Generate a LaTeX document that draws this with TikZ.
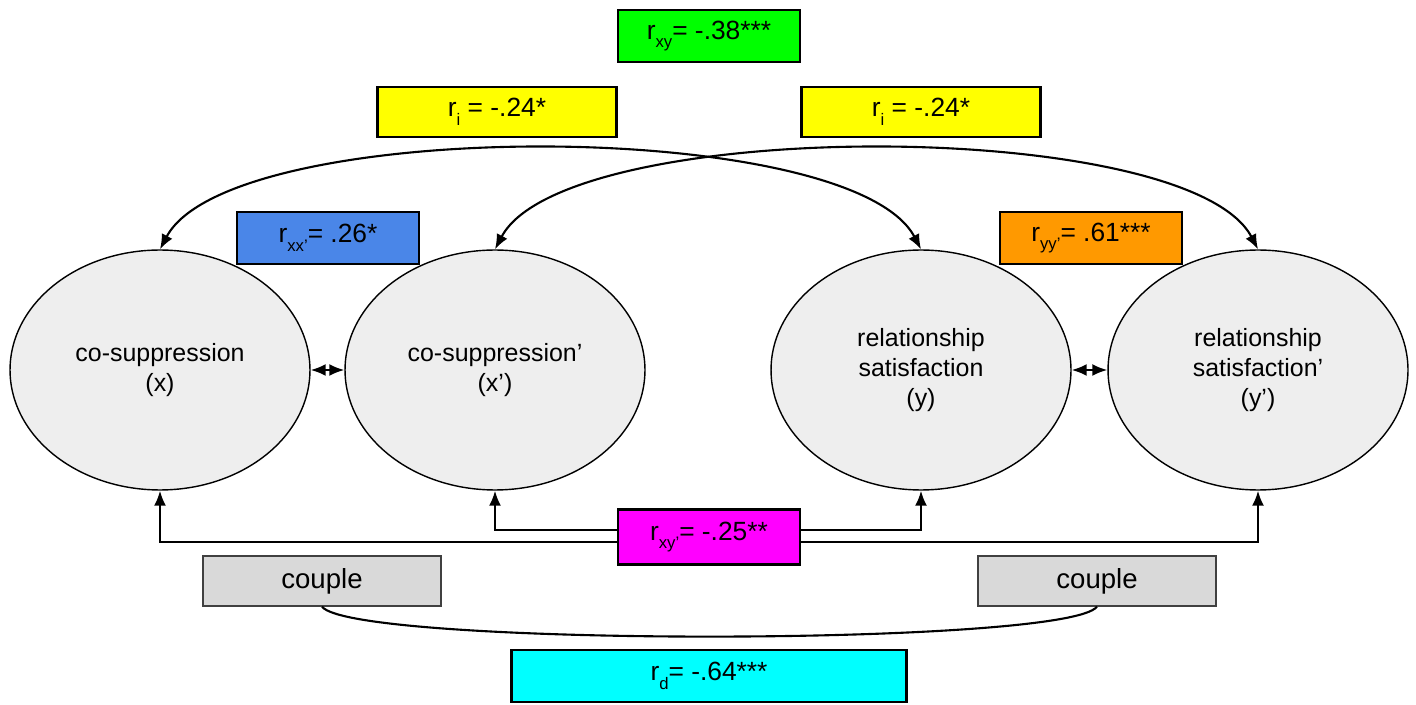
\documentclass[tikz,border=0pt]{standalone}
\usepackage{fontspec}
\setmainfont{Liberation Sans}
\usepackage{tikz}
\usetikzlibrary{shapes,arrows.meta,calc}
\definecolor{ellgray}{HTML}{EEEEEE}
\definecolor{cplgray}{HTML}{D9D9D9}
\definecolor{rgreen}{HTML}{00FF00}
\definecolor{ryellow}{HTML}{FFFF00}
\definecolor{rblue}{HTML}{4A86E8}
\definecolor{rorange}{HTML}{FF9900}
\definecolor{rmagenta}{HTML}{FF00FF}
\definecolor{rcyan}{HTML}{00FFFF}
\newcommand{\rsub}[1]{\raisebox{-0.33em}{\fontsize{9.5}{10}\selectfont #1}}
\tikzstyle{line} = [draw, line width=1.2pt, {Latex[length=3mm,width=2.4mm]}-{Latex[length=3mm,width=2.4mm]}]
\tikzstyle{var} = [draw, ellipse, fill=ellgray, line width=0.8pt, minimum width=6cm, minimum height=4.8cm, inner sep=0pt, align=center, font=\fontsize{14.2}{17}\selectfont]
\tikzstyle{coef} = [draw, rectangle, line width=1.2pt, minimum width=3.64cm, minimum height=1.04cm, inner sep=0pt, text centered, font=\fontsize{15}{17}\selectfont]
\tikzstyle{couplebox} = [draw=black!75, fill=cplgray, rectangle, line width=0.7pt, minimum width=4.76cm, minimum height=1cm, inner sep=0pt, text centered, font=\fontsize{15.7}{17}\selectfont]

\begin{document}
\begin{tikzpicture}[x=0.02cm, y=-0.02cm]
        \useasboundingbox (0,0) rectangle (1416,705);
        \node[var] (x) at (160,370) {co-suppression\\(x)};
        \node[var] (xp) at (495,370) {co-suppression’\\(x’)};
        \node[var] (y) at (921,370) {relationship\\satisfaction\\(y)};
        \node[var] (yp) at (1258,370) {relationship\\satisfaction’\\(y’)};
        \path[line] (x.east) -- (xp.west);
        \path[line] (y.east) -- (yp.west);
        \path[line] (x.north) .. controls +(70,-133) and +(-70,-133) .. (y.north);
        \path[line] (xp.north) .. controls +(70,-133) and +(-70,-133) .. (yp.north);
        \coordinate (outer) at (0,542);
        \coordinate (inner) at (0,530);
        \path[line] (x.south) -- (x.south |- outer) -- (yp.south |- outer) -- (yp.south);
        \path[line] (xp.south) -- (xp.south |- inner) -- (y.south |- inner) -- (y.south);
        \node[coef, fill=rgreen] (rxy) at (709,36) {r\rsub{xy}= -.38***};
        \node[coef, fill=ryellow, minimum width=4.78cm, minimum height=1cm] (ril) at (497,112) {r\rsub{i} = -.24*};
        \node[coef, fill=ryellow, minimum width=4.78cm, minimum height=1cm] (rir) at (921,112) {r\rsub{i} = -.24*};
        \node[coef, fill=rblue] (rxx) at (328,238) {r\rsub{xx’}= .26*};
        \node[coef, fill=rorange] (ryy) at (1091,238) {r\rsub{yy’}= .61***};
        \node[coef, fill=rmagenta, minimum height=1.1cm] (rxyp) at (709,537) {r\rsub{xy’}= -.25**};
        \node[couplebox] (cl) at (322,581) {couple};
        \node[couplebox] (cr) at (1097,581) {couple};
        \draw[line width=1.2pt] (cl.south) .. controls +(30,40) and +(-30,40) .. (cr.south);
        \node[coef, fill=rcyan, minimum width=7.9cm] (rd) at (709,676) {r\rsub{d}= -.64***};
    \end{tikzpicture}
\end{document}
